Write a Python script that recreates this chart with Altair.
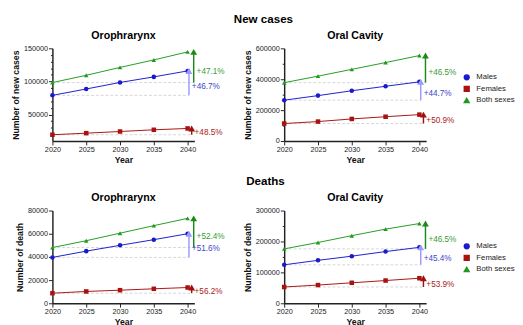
import altair as alt
import pandas as pd

years = [2020, 2025, 2030, 2035, 2040]
series = ["Males", "Females", "Both sexes"]

# New cases – Orophrarynx
nc_oro_males = [79000, 88600, 98500, 106900, 115900]
nc_oro_females = [19500, 21900, 24400, 27000, 29000]
nc_oro_both = [98300, 109300, 121200, 132500, 144600]
nc_oro_pct = ["+46.7%", "+48.5%", "+47.1%"]

# New cases – Oral Cavity
nc_oral_males = [264500, 294000, 325500, 354500, 383000]
nc_oral_females = [113300, 126000, 143000, 157400, 171000]
nc_oral_both = [377700, 420000, 464000, 508000, 553300]
nc_oral_pct = ["+44.7%", "+50.9%", "+46.5%"]

# Deaths – Orophrarynx
d_oro_males = [39600, 45000, 50000, 54900, 60000]
d_oro_females = [8700, 10200, 11300, 12500, 13600]
d_oro_both = [48100, 54000, 60500, 67000, 73300]
d_oro_pct = ["+51.6%", "+56.2%", "+52.4%"]

# Deaths – Oral Cavity
d_oral_males = [124500, 139000, 152500, 167400, 181000]
d_oral_females = [52700, 59000, 66300, 73600, 81100]
d_oral_both = [176000, 196700, 218800, 240000, 258000]
d_oral_pct = ["+45.4%", "+53.9%", "+46.5%"]

line_colors = ["#1a1acc", "#aa1111", "#1f9a1f"]
arrow_colors = ["#9a9aff", "#a01010", "#1a8a1a"]
label_colors = ["#4444cc", "#aa2222", "#3a9a3a"]
arrow_x = [2040.2, 2040.6, 2040.9]
shapes = ["circle", "square", "triangle-up"]

FONT = "Liberation Sans"


def panel(vals, pcts, title, ytitle, dom, ticks, minor, legend_drop):
    rows = []
    for s, v in zip(series, vals):
        for yr, val in zip(years, v):
            rows.append({"series": s, "year": yr, "value": val})
    df = pd.DataFrame(rows)
    arr = []
    for i, (s, v) in enumerate(zip(series, vals)):
        base, end = v[0], v[-1]
        arr.append({
            "series": s, "x0": 2020, "year": arrow_x[i], "base": base, "value": end,
            "lab_y": base + 0.38 * (end - base), "label": pcts[i],
            "acolor": arrow_colors[i], "tcolor": label_colors[i],
        })
    adf = pd.DataFrame(arr)

    xsc = alt.Scale(domain=[2020, 2041], nice=False, zero=False)
    xax = alt.Axis(values=years, format="d", tickSize=4, labelFlush=False)
    ysc = alt.Scale(domain=dom, nice=False, zero=False)
    yax = alt.Axis(values=ticks, format="d", tickSize=4, orient="left")

    def X(f):
        return alt.X(f, type="quantitative", scale=xsc, axis=xax, title="Year")

    def Y(f):
        return alt.Y(f, type="quantitative", scale=ysc, axis=yax, title=ytitle)

    if legend_drop is not None:
        leg = alt.Legend(title=" ", titleFontSize=8, titlePadding=legend_drop, offset=38, padding=0)
    else:
        leg = None
    color = alt.Color("series:N", scale=alt.Scale(domain=series, range=line_colors), legend=leg)
    shape = alt.Shape("series:N", scale=alt.Scale(domain=series, range=shapes), legend=leg)

    base_rules = alt.Chart(adf).mark_rule(color="#d4d4d4", strokeDash=[3, 2], strokeWidth=1).encode(
        x=X("x0"), x2="year:Q", y=Y("base"))
    lines = alt.Chart(df).mark_line(strokeWidth=1).encode(x=X("year"), y=Y("value"), color=color)
    pts = alt.Chart(df).mark_point(filled=True, size=22, opacity=1).encode(
        x=X("year"), y=Y("value"), color=color, shape=shape)
    arrows = alt.Chart(adf).mark_rule(strokeWidth=1.5).encode(
        x=X("year"), y=Y("base"), y2="value:Q", stroke=alt.Stroke("acolor:N", scale=None))
    heads = alt.Chart(adf).mark_point(shape="triangle-up", filled=True, size=50, opacity=1, strokeWidth=0).encode(
        x=X("year"), y=Y("value"), fill=alt.Fill("acolor:N", scale=None))
    labels = alt.Chart(adf).mark_text(align="left", dx=3, fontSize=8.5, font=FONT).encode(
        x=X("year"), y=Y("lab_y"), text="label:N", fill=alt.Fill("tcolor:N", scale=None))

    main = alt.layer(base_rules, lines, pts, arrows, heads, labels)
    if minor:
        mdf = pd.DataFrame({"m": minor})
        minor_layer = alt.Chart(mdf).mark_point(opacity=0).encode(
            y=alt.Y("m:Q", scale=ysc, title=None,
                    axis=alt.Axis(values=minor, labels=False, tickSize=2, domain=False,
                                  orient="left", title=None)))
        ch = alt.layer(main, minor_layer).resolve_axis(y="independent")
    else:
        ch = main
    return ch.properties(
        width=147, height=96,
        title=alt.TitleParams(title, fontSize=11, fontWeight="bold", font=FONT, offset=4),
    )


top = alt.hconcat(
    panel([nc_oro_males, nc_oro_females, nc_oro_both], nc_oro_pct, "Orophrarynx",
          "Number of new cases", [10000, 150000], [50000, 100000, 150000],
          [20000, 30000, 40000, 60000, 70000, 80000, 90000, 110000, 120000, 130000, 140000], None),
    panel([nc_oral_males, nc_oral_females, nc_oral_both], nc_oral_pct, "Oral Cavity",
          "Number of new cases", [0, 600000], [0, 200000, 400000, 600000],
          [100000, 300000, 500000], 18),
    spacing=18,
).resolve_scale(color="independent", shape="independent").properties(
    title=alt.TitleParams("New cases", fontSize=12, fontWeight="bold", font=FONT, anchor="middle"))

bottom = alt.hconcat(
    panel([d_oro_males, d_oro_females, d_oro_both], d_oro_pct, "Orophrarynx",
          "Number of death", [0, 80000], [0, 20000, 40000, 60000, 80000], None, None),
    panel([d_oral_males, d_oral_females, d_oral_both], d_oral_pct, "Oral Cavity",
          "Number of death", [0, 300000], [0, 100000, 200000, 300000],
          [50000, 150000, 250000], 25),
    spacing=18,
).resolve_scale(color="independent", shape="independent").properties(
    title=alt.TitleParams("Deaths", fontSize=12, fontWeight="bold", font=FONT, anchor="middle"))

chart = alt.vconcat(top, bottom, spacing=11).resolve_scale(
    color="independent", shape="independent"
).properties(
    padding={"left": 3, "top": 0, "right": 0, "bottom": 0}
).configure_view(stroke=None).configure_axis(
    grid=False, domainColor="#222222", tickColor="#222222", domainWidth=1.5, tickWidth=1,
    labelFont=FONT, titleFont=FONT, labelFontSize=7.5, titleFontSize=9, titleFontWeight="bold",
    labelColor="#222222", titleColor="#111111", labelPadding=1, titlePadding=3,
).configure_legend(
    labelFont=FONT, labelFontSize=8, symbolSize=25, rowPadding=0, labelColor="#222222",
    labelOffset=6,
)

chart.save("out.html", embed_options={"renderer": "svg", "actions": False})
